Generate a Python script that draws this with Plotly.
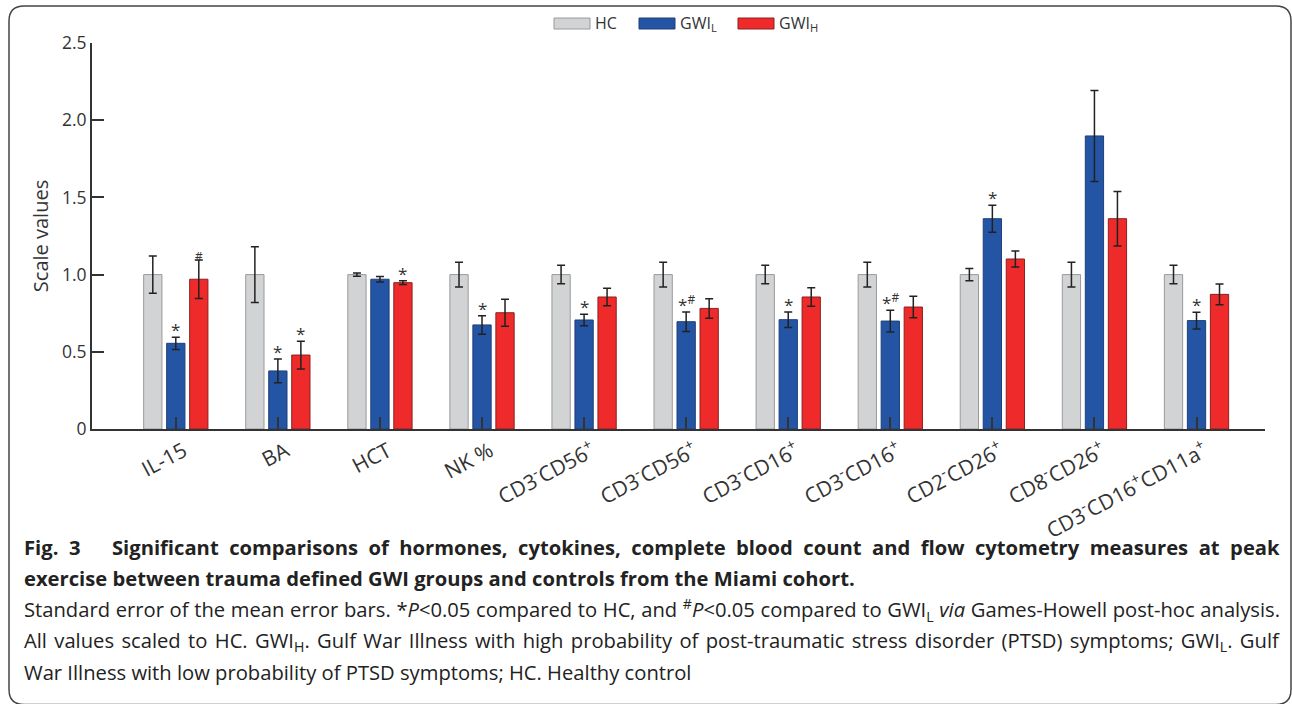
import json
import plotly.graph_objects as go

# ---------------- data ----------------
categories = ["IL-15", "BA", "HCT", "NK %",
              "CD3<sup>-</sup>CD56<sup>+</sup>", "CD3<sup>-</sup>CD56<sup>+</sup>",
              "CD3<sup>-</sup>CD16<sup>+</sup>", "CD3<sup>-</sup>CD16<sup>+</sup>",
              "CD2<sup>-</sup>CD26<sup>+</sup>", "CD8<sup>-</sup>CD26<sup>+</sup>",
              "CD3<sup>-</sup>CD16<sup>+</sup>CD11a<sup>+</sup>"]
hc_values = [1.0, 1.0, 1.0, 1.0, 1.0, 1.0, 1.0, 1.0, 1.0, 1.0, 1.0]
hc_errors = [0.12, 0.18, 0.01, 0.08, 0.06, 0.08, 0.06, 0.08, 0.04, 0.08, 0.06]
gwil_values = [0.555, 0.376, 0.97, 0.674, 0.706, 0.695, 0.708, 0.699, 1.362, 1.898, 0.702]
gwil_errors = [0.04, 0.077, 0.018, 0.06, 0.037, 0.063, 0.05, 0.07, 0.087, 0.295, 0.054]
gwih_values = [0.97, 0.479, 0.948, 0.753, 0.855, 0.781, 0.855, 0.79, 1.101, 1.362, 0.872]
gwih_errors = [0.125, 0.09, 0.012, 0.087, 0.056, 0.063, 0.06, 0.07, 0.052, 0.177, 0.067]
gwil_marks = ["*", "*", "", "*", "*", "*<sup>#</sup>", "*", "*<sup>#</sup>", "*", "", "*"]
gwih_marks = ["<sup>#</sup>", "*", "*", "", "", "", "", "", "", "", ""]
y_ticks = [0, 0.5, 1.0, 1.5, 2.0, 2.5]
y_ticktext = ["0", "0.5", "1.0", "1.5", "2.0", "2.5"]
series_names = ["HC", "GWI<sub>L</sub>", "GWI<sub>H</sub>"]

# ---------------- layout constants ----------------
W, H = 1292, 704
L, R, T, B = 92, 27, 43, 275
PW, PH = W - L - R, H - T - B
FONT = "Open Sans, Noto Sans, sans-serif"
TXT = "#333333"
XR = [-0.821, 10.671]
SLOT = 0.2253


def px(x):
    return (x - L) / PW


def py(y):
    return (H - B - y) / PH


x_idx = list(range(len(categories)))
fig = go.Figure()
colors = [("#d2d3d5", "#9a9a9a"), ("#2455a5", "#1e3f78"), ("#ee2a2a", "#8e2020")]
for name, vals, errs, (fc, lc) in zip(series_names,
                                      [hc_values, gwil_values, gwih_values],
                                      [hc_errors, gwil_errors, gwih_errors], colors):
    fig.add_trace(go.Bar(
        x=x_idx, y=vals, name=name,
        marker=dict(color=fc, line=dict(color=lc, width=1)),
        error_y=dict(type="data", array=errs, visible=True,
                     color="#222222", thickness=1.5, width=4),
        showlegend=False,
    ))

annotations = []
for i in x_idx:
    if gwil_marks[i]:
        annotations.append(dict(x=i, y=gwil_values[i] + gwil_errors[i], xref="x", yref="y",
                                text=gwil_marks[i], showarrow=False, yanchor="bottom",
                                yshift=-6, font=dict(family=FONT, size=17, color=TXT)))
    if gwih_marks[i]:
        annotations.append(dict(x=i + SLOT, y=gwih_values[i] + gwih_errors[i], xref="x", yref="y",
                                text=gwih_marks[i], showarrow=False, yanchor="bottom",
                                yshift=-6, font=dict(family=FONT, size=17, color=TXT)))

# manual legend
shapes = []
legend_items = [(554, 590, 593), (639, 675, 678), (738, 774, 777)]
for (x0, x1, xt), name, (fc, lc) in zip(legend_items, series_names, colors):
    shapes.append(dict(type="rect", xref="paper", yref="paper",
                       x0=px(x0), x1=px(x1), y0=py(29), y1=py(18),
                       fillcolor=fc, line=dict(color=lc, width=1)))
    annotations.append(dict(x=px(xt), y=py(23), xref="paper", yref="paper",
                            text=name, showarrow=False, xanchor="left", yanchor="middle",
                            font=dict(family=FONT, size=16, color=TXT)))

# rounded frame
fl, fr, ft, fb, rad = 9, 1291, 6, 704.5, 15
rx = rad / PW
path = (f"M {px(fl)},{py(ft + rad)} Q {px(fl)},{py(ft)} {px(fl) + rx},{py(ft)} "
        f"L {px(fr) - rx},{py(ft)} Q {px(fr)},{py(ft)} {px(fr)},{py(ft + rad)} "
        f"L {px(fr)},{py(fb - rad)} Q {px(fr)},{py(fb)} {px(fr) - rx},{py(fb)} "
        f"L {px(fl) + rx},{py(fb)} Q {px(fl)},{py(fb)} {px(fl)},{py(fb - rad)} Z")
shapes.append(dict(type="path", xref="paper", yref="paper", path=path,
                   line=dict(color="#444444", width=1.5)))

# caption (text, y position, font size, justified?)
caption = [
    ("<b>Fig. 3&nbsp;&nbsp; Significant comparisons of hormones, cytokines, complete blood count and flow cytometry measures at peak</b>", 547, 20.2, True),
    ("<b>exercise between trauma defined GWI groups and controls from the Miami cohort.</b>", 578, 20.2, False),
    ("Standard error of the mean error bars. *<i>P</i>&lt;0.05 compared to HC, and <sup>#</sup><i>P</i>&lt;0.05 compared to GWI<sub>L</sub> <i>via</i> Games-Howell post-hoc analysis.", 610, 20.2, True),
    ("All values scaled to HC. GWI<sub>H</sub>. Gulf War Illness with high probability of post-traumatic stress disorder (PTSD) symptoms; GWI<sub>L</sub>. Gulf", 641, 20.2, True),
    ("War Illness with low probability of PTSD symptoms; HC. Healthy control", 672, 20.2, False),
]
justify = []
for text, yy, sz, just in caption:
    if just:
        justify.append([len(annotations), 1278 - 22])
    annotations.append(dict(x=px(22), y=py(yy), xref="paper", yref="paper",
                            text=text, showarrow=False, xanchor="left", yanchor="middle",
                            font=dict(family=FONT, size=sz, color="#222222")))

fig.update_layout(
    width=W, height=H,
    margin=dict(l=L, r=R, t=T, b=B, autoexpand=False),
    paper_bgcolor="white", plot_bgcolor="white",
    barmode="group", bargap=0.324, bargroupgap=0.205,
    font=dict(family=FONT, color=TXT),
    annotations=annotations, shapes=shapes,
    xaxis=dict(range=XR, tickvals=x_idx, ticktext=categories, tickangle=-28,
               ticks="inside", ticklen=12, tickwidth=1.5, tickcolor="#333333",
               ticklabelshift=8, ticklabelstandoff=0,
               showline=True, linecolor="#333333", linewidth=2, showgrid=False,
               zeroline=False, tickfont=dict(family=FONT, size=21, color=TXT)),
    yaxis=dict(range=[0, 2.5], tickvals=y_ticks, ticktext=y_ticktext,
               ticks="inside", ticklen=12, tickwidth=1.5, tickcolor="#333333",
               showline=True, linecolor="#333333", linewidth=2, showgrid=False,
               zeroline=False, tickfont=dict(family=FONT, size=17.5, color=TXT),
               title=dict(text="Scale values", standoff=8,
                          font=dict(family=FONT, size=20, color=TXT))),
)

post_script = """
document.body.style.margin = '0';
try {
  var gd = document.getElementById('{plot_id}');
  var J = %s;
  J.forEach(function(p) {
    var t = gd.querySelector('g.annotation[data-index="' + p[0] + '"] text.annotation-text');
    if (!t) return;
    var b1 = t.getBBox();
    var n = (t.textContent.match(/[ \\u00a0]/g) || []).length;
    if (!n) return;
    t.style.wordSpacing = ((p[1] - b1.width) / n) + 'px';
    var b2 = t.getBBox();
    var tr = t.getAttribute('transform') || '';
    t.setAttribute('transform', tr + ' translate(' + (b1.x - b2.x) + ',0)');
  });
} catch (e) {}
""" % json.dumps(justify)

fig.write_html("out.html", post_script=post_script, config={"displayModeBar": False})
